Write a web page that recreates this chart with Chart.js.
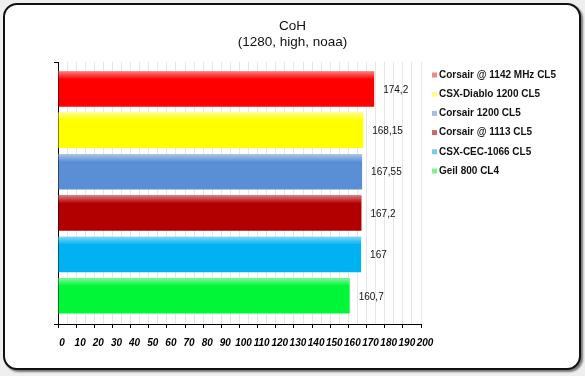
<!DOCTYPE html>
<html><head><meta charset="utf-8">
<script src="https://cdn.jsdelivr.net/npm/chart.js@4"></script>
<style>
html,body{margin:0;padding:0;background:#efefef;width:585px;height:376px;overflow:hidden;}
#frame{position:absolute;left:3px;top:3px;width:578px;height:367px;box-sizing:border-box;border:2px solid #111;border-radius:14px;background:#fff;box-shadow:2px 2px 2px #777;}
#wrap{position:absolute;left:0;top:0;width:585px;height:376px;}
</style></head>
<body>
<div id="frame"></div>
<div id="wrap"><canvas id="c" width="585" height="376"></canvas></div>
<script>
const titleLines = ['CoH', '(1280, high, noaa)'];
const categories = ['Corsair @ 1142 MHz CL5', 'CSX-Diablo 1200 CL5', 'Corsair 1200 CL5', 'Corsair @ 1113 CL5', 'CSX-CEC-1066 CL5', 'Geil 800 CL4'];
const values = [174.2, 168.15, 167.55, 167.2, 167, 160.7];
const valueLabels = ['174,2', '168,15', '167,55', '167,2', '167', '160,7'];
const barColors = ['#ff0000', '#ffff00', '#5a8fd6', '#b20000', '#00b2f2', '#00f636'];
const legendColors = ['#f08a8a', '#ffff80', '#a9bce0', '#c86a6a', '#78cdee', '#80f090'];
const xMin = 0, xMax = 200, xStep = 5;

const topShine = {
  id: 'topShine',
  afterDatasetsDraw(chart) {
    const ctx = chart.ctx;
    const meta = chart.getDatasetMeta(0);
    meta.data.forEach((bar) => {
      const top = bar.y - bar.height / 2;
      const left = bar.base, right = bar.x;
      const g = ctx.createLinearGradient(0, top, 0, top + 8);
      g.addColorStop(0, 'rgba(255,255,255,0.5)');
      g.addColorStop(1, 'rgba(255,255,255,0)');
      ctx.save();
      ctx.fillStyle = g;
      ctx.fillRect(left, top, right - left, 8);
      ctx.restore();
    });
  }
};

const valueText = {
  id: 'valueText',
  afterDatasetsDraw(chart) {
    const ctx = chart.ctx;
    const meta = chart.getDatasetMeta(0);
    ctx.save();
    ctx.font = '10px "Liberation Sans", Arial, sans-serif';
    ctx.fillStyle = '#111';
    ctx.textBaseline = 'middle';
    ctx.textAlign = 'left';
    meta.data.forEach((bar, i) => {
      ctx.fillText(valueLabels[i], bar.x + 9, bar.y + 1);
    });
    ctx.restore();
  }
};

const sideLegend = {
  id: 'sideLegend',
  afterDraw(chart) {
    const ctx = chart.ctx;
    const x0 = chart.chartArea.right + 11;
    const y0 = 75, dy = 19.2;
    ctx.save();
    ctx.font = 'bold 10px "Liberation Sans", Arial, sans-serif';
    ctx.textBaseline = 'middle';
    ctx.textAlign = 'left';
    categories.forEach((c, i) => {
      const y = y0 + i * dy;
      ctx.fillStyle = legendColors[i];
      ctx.fillRect(x0, y - 2.5, 5, 5);
      ctx.fillStyle = '#111';
      ctx.fillText(c, x0 + 7, y);
    });
    ctx.restore();
  }
};

const axisCap = {
  id: 'axisCap',
  afterDraw(chart) {
    const ctx = chart.ctx, a = chart.chartArea;
    ctx.save();
    ctx.strokeStyle = '#000';
    ctx.lineWidth = 1;
    ctx.beginPath();
    ctx.moveTo(a.left - 4, a.top + 0.5); ctx.lineTo(a.left, a.top + 0.5);
    ctx.moveTo(a.left - 4, a.bottom + 0.5); ctx.lineTo(a.left, a.bottom + 0.5);
    ctx.stroke();
    ctx.restore();
  }
};

new Chart(document.getElementById('c'), {
  type: 'bar',
  data: {
    datasets: [{
      data: values.map((v, i) => ({ x: v, y: i })),
      backgroundColor: barColors,
      borderWidth: 0,
      barPercentage: 0.857,
      categoryPercentage: 1,
      yAxisID: 'y'
    }]
  },
  plugins: [topShine, valueText, sideLegend, axisCap],
  options: {
    indexAxis: 'y',
    responsive: false,
    animation: false,
    events: [],
    layout: { padding: { left: 0, right: 0, top: 0, bottom: 20 } },
    plugins: {
      legend: { display: false },
      tooltip: { enabled: false },
      title: {
        display: true,
        text: titleLines,
        color: '#111',
        font: { family: '"Liberation Sans", Arial, sans-serif', size: 13.5, weight: 'normal', lineHeight: '16px' },
        padding: { top: 18, bottom: 12 }
      }
    },
    scales: {
      y: {
        type: 'linear',
        position: 'left',
        reverse: true,
        offset: false,
        min: -0.65,
        max: 5.68,
        afterBuildTicks(s) { s.ticks = categories.map((_, i) => ({ value: i })); },
        ticks: { display: false },
        grid: { display: false, offset: false },
        border: { display: true, color: '#000', width: 1 },
        afterFit(s) { s.width = 58; }
      },
      side: {
        type: 'linear',
        position: 'right',
        display: true,
        ticks: { display: false },
        grid: { display: false },
        border: { display: false },
        afterFit(s) { s.width = 164; }
      },
      x: {
        type: 'linear',
        min: xMin,
        max: xMax,
        ticks: {
          stepSize: xStep,
          autoSkip: false,
          maxRotation: 0,
          padding: 9,
          labelOffset: 4,
          color: '#000',
          font: { family: '"Liberation Sans", Arial, sans-serif', size: 10, style: 'italic', weight: 'bold' },
          callback: (v) => (v % 10 === 0 ? String(v) : '')
        },
        grid: {
          drawOnChartArea: true,
          color: (c) => (c.tick && c.tick.value === 0 ? 'rgba(0,0,0,0)' : '#e6e6e6'),
          tickColor: (c) => (c.tick && c.tick.value % 10 === 0 ? '#000' : 'rgba(0,0,0,0)'),
          tickLength: 4
        },
        border: { display: true, color: '#000', width: 1 },
        afterFit(s) { s.height = 32; }
      }
    }
  }
});
</script>
</body></html>
